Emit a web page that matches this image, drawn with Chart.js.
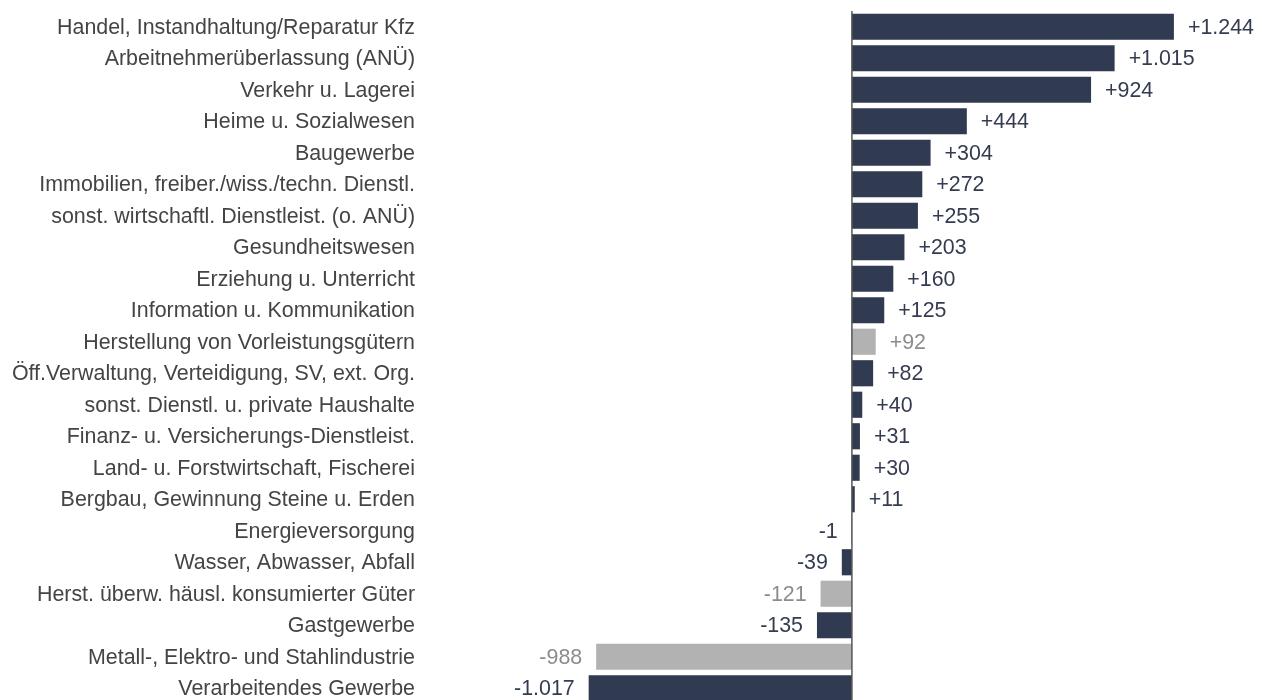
<!DOCTYPE html>
<html><head><meta charset="utf-8">
<script src="https://cdn.jsdelivr.net/npm/chart.js@4"></script>
<style>
html,body{margin:0;padding:0;background:#fff;overflow:hidden;}
#wrap{position:relative;width:1265px;height:704px;}
</style></head>
<body><div id="wrap"><canvas id="c"></canvas></div>
<script>
const categories = [
"Handel, Instandhaltung/Reparatur Kfz",
"Arbeitnehmerüberlassung (ANÜ)",
"Verkehr u. Lagerei",
"Heime u. Sozialwesen",
"Baugewerbe",
"Immobilien, freiber./wiss./techn. Dienstl.",
"sonst. wirtschaftl. Dienstleist. (o. ANÜ)",
"Gesundheitswesen",
"Erziehung u. Unterricht",
"Information u. Kommunikation",
"Herstellung von Vorleistungsgütern",
"Öff.Verwaltung, Verteidigung, SV, ext. Org.",
"sonst. Dienstl. u. private Haushalte",
"Finanz- u. Versicherungs-Dienstleist.",
"Land- u. Forstwirtschaft, Fischerei",
"Bergbau, Gewinnung Steine u. Erden",
"Energieversorgung",
"Wasser, Abwasser, Abfall",
"Herst. überw. häusl. konsumierter Güter",
"Gastgewerbe",
"Metall-, Elektro- und Stahlindustrie",
"Verarbeitendes Gewerbe"
];
const values = [1244,1015,924,444,304,272,255,203,160,125,92,82,40,31,30,11,-1,-39,-121,-135,-988,-1017];
const highlighted = [false,false,false,false,false,false,false,false,false,false,true,false,false,false,false,false,false,false,true,false,true,false];

const NAVY = '#303a50', GREY = '#b2b2b2', GREY_TXT = '#8c8c8c', LABEL_TXT = '#444444', VAL_TXT = '#343c50';
const FONT = '21.4px "Liberation Sans", Arial, sans-serif';

function fmt(v){
  const s = Math.abs(v).toString().replace(/\B(?=(\d{3})+(?!\d))/g,'.');
  return (v>0?'+':'-')+s;
}

const labelsPlugin = {
  id:'labelsPlugin',
  afterDatasetsDraw(chart){
    const ctx = chart.ctx;
    const meta = chart.getDatasetMeta(0);
    const ys = chart.scales.y;
    ctx.save();
    ctx.font = FONT;
    ctx.textBaseline = 'middle';
    ctx.fillStyle = LABEL_TXT;
    ctx.textAlign = 'right';
    categories.forEach((c,i)=>{
      ctx.fillText(c, 415, ys.getPixelForValue(i) + 1);
    });
    meta.data.forEach((bar,i)=>{
      const v = values[i];
      ctx.fillStyle = highlighted[i] ? GREY_TXT : VAL_TXT;
      if (v>=0){ ctx.textAlign='left'; ctx.fillText(fmt(v), bar.x+14, bar.y+1); }
      else { ctx.textAlign='right'; ctx.fillText(fmt(v), bar.x-14, bar.y+1); }
    });
    const x0 = chart.scales.x.getPixelForValue(0);
    ctx.strokeStyle = '#555';
    ctx.lineWidth = 1.5;
    ctx.beginPath();
    ctx.moveTo(x0, chart.chartArea.top);
    ctx.lineTo(x0, chart.chartArea.bottom);
    ctx.stroke();
    ctx.restore();
  }
};

new Chart(document.getElementById('c'), {
  type:'bar',
  data:{
    labels: categories,
    datasets:[{
      data: values,
      backgroundColor: highlighted.map(h=>h?GREY:NAVY),
      borderWidth:0,
      barPercentage:0.83,
      categoryPercentage:1
    }]
  },
  options:{
    indexAxis:'y',
    responsive:true,
    maintainAspectRatio:false,
    animation:false,
    layout:{padding:{top:11,bottom:0,left:430,right:15}},
    plugins:{legend:{display:false},tooltip:{enabled:false}},
    scales:{
      x:{display:false,min:-1630,max:1538},
      y:{display:false}
    }
  },
  plugins:[labelsPlugin]
});
</script></body></html>
